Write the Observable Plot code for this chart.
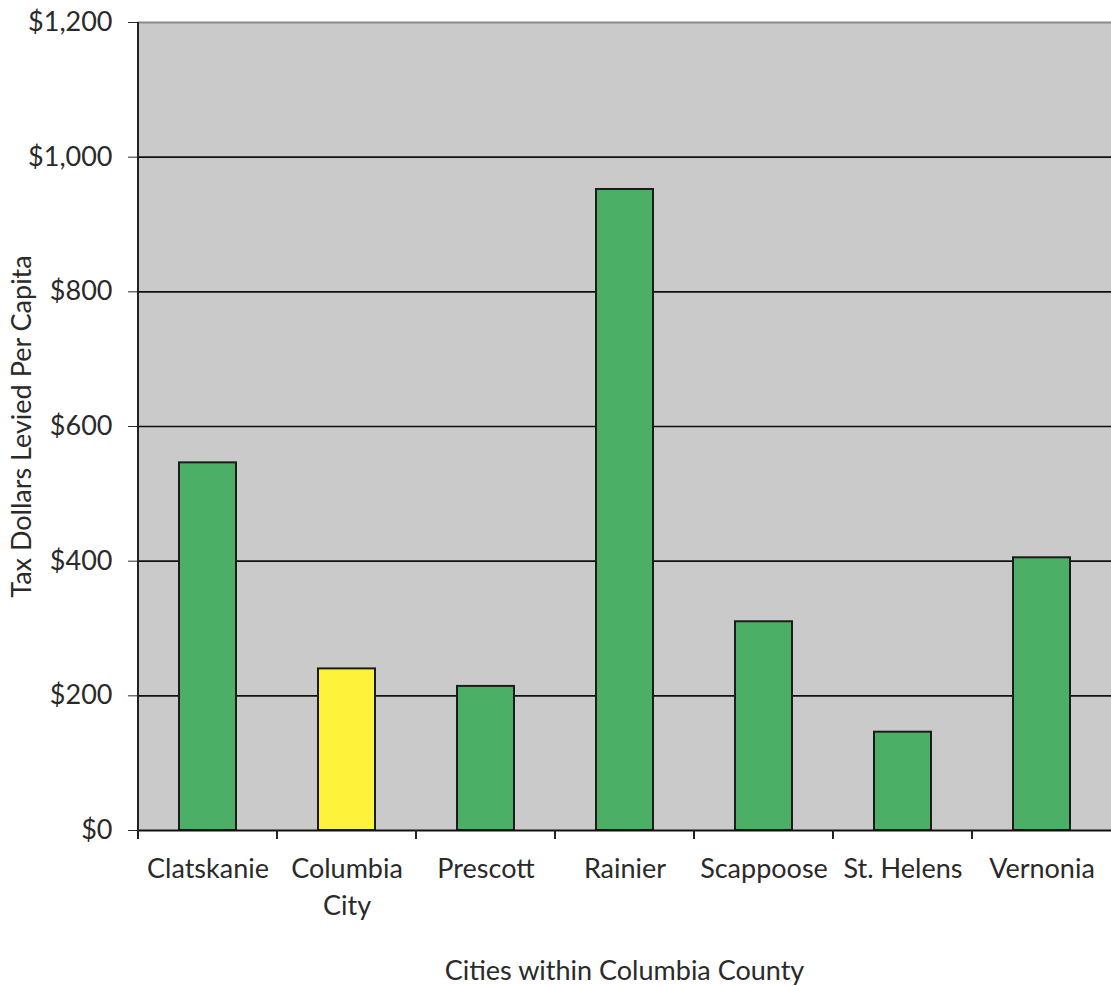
<!DOCTYPE html>
<html>
<head>
<meta charset="utf-8">
<script src="https://cdn.jsdelivr.net/npm/d3@7"></script>
<script src="https://cdn.jsdelivr.net/npm/@observablehq/plot@0.6"></script>
<style>
  body { margin: 0; background: #fff; }
  #chart svg { display: block; }
</style>
</head>
<body>
<div id="chart"></div>
<script>
const cities = ["Clatskanie", "Columbia City", "Prescott", "Rainier", "Scappoose", "St. Helens", "Vernonia"];
const taxPerCapita = [546, 240, 214, 952, 310, 146, 405];
const barColors = ["#4caf66", "#fff23a", "#4caf66", "#4caf66", "#4caf66", "#4caf66", "#4caf66"];
const yTicks = [0, 200, 400, 600, 800, 1000, 1200];
const tickLabels = {"Columbia City": "Columbia\nCity"};

const data = cities.map((c, i) => ({city: c, value: taxPerCapita[i], color: barColors[i]}));

const chart = Plot.plot({
  width: 1111,
  height: 986,
  marginLeft: 137,
  marginTop: 22,
  marginBottom: 156,
  marginRight: 0,
  style: {fontFamily: "Lato, 'Open Sans', sans-serif", fontSize: "27px", color: "#2a2a2a", background: "#fff"},
  x: {domain: cities, paddingInner: 0.59, paddingOuter: 0.295},
  y: {domain: [0, 1200]},
  marks: [
    Plot.frame({fill: "#cbcaca", stroke: null}),
    Plot.ruleY(yTicks.filter(t => t > 0 && t < 1200), {stroke: "#111", strokeWidth: 1.6}),
    Plot.ruleY([1200], {stroke: "#8a8a8a", strokeWidth: 2}),
    Plot.barY(data, {x: "city", y: "value", fill: "color", stroke: "#1c1c1c", strokeWidth: 2}),
    Plot.ruleY([0], {stroke: "#111", strokeWidth: 2}),
    Plot.axisY({
      ticks: yTicks,
      tickFormat: d => "$" + d3.format(",")(d),
      tickSize: 9,
      tickPadding: 16,
      fontSize: 27,
      label: "Tax Dollars Levied Per Capita",
      labelAnchor: "center",
      labelArrow: "none",
      labelOffset: 126
    }),
    Plot.axisX({
      tickSize: 0,
      tickPadding: 21,
      fontSize: 27,
      lineHeight: 1.38,
      tickFormat: d => tickLabels[d] || d,
      label: "Cities within Columbia County",
      labelAnchor: "center",
      labelArrow: "none",
      labelOffset: 149
    })
  ]
});

document.getElementById("chart").appendChild(chart);

// Category boundary tick marks and the left axis line, from Plot's own scales
const xs = chart.scale("x");
const ys = chart.scale("y");
const svg = d3.select(chart.tagName === "svg" ? chart : chart.querySelector("svg"));
const y0 = ys.apply(0);
const yTop = ys.apply(1200);
const g = svg.append("g").attr("stroke", "#222").attr("stroke-width", 2);
const boundaries = cities.map(c => xs.apply(c) - (xs.step - xs.bandwidth) / 2);
boundaries.forEach(bx => {
  g.append("line").attr("x1", bx).attr("x2", bx).attr("y1", y0).attr("y2", y0 + 9);
});
g.append("line").attr("x1", boundaries[0]).attr("x2", boundaries[0]).attr("y1", yTop).attr("y2", y0);
</script>
</body>
</html>
